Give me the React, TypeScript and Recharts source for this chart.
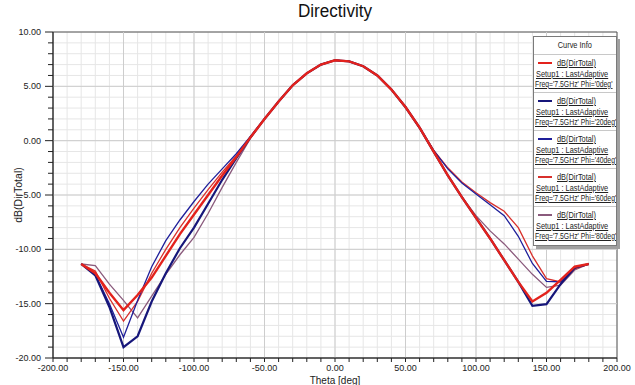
import React from 'react';
import {
  LineChart,
  Line,
  XAxis,
  YAxis,
  CartesianGrid,
  ReferenceLine,
  ReferenceArea,
  Legend,
} from 'recharts';

const theta = [
  -180, -170, -160, -150, -140, -130, -120, -110, -100, -90, -80, -70, -60, -50, -40, -30, -20, -10, 0,
  10, 20, 30, 40, 50, 60, 70, 80, 90, 100, 110, 120, 130, 140, 150, 160, 170, 180,
];

const phi0 = [
  -11.35, -12.2, -14.0, -15.6, -14.2, -12.6, -10.6, -8.6, -6.8, -5.0, -3.2, -1.5, 0.3, 2.0, 3.6, 5.1, 6.2, 7.0, 7.4,
  7.3, 6.85, 6.0, 4.7, 3.1, 1.2, -1.0, -3.2, -5.2, -7.1, -9.0, -11.0, -13.0, -14.8, -14.0, -12.8, -11.6, -11.35,
];
const phi20 = [
  -11.35, -12.4, -15.3, -19.0, -18.0, -14.8, -12.2, -9.9, -8.0, -5.8, -3.6, -1.6, 0.3, 2.0, 3.6, 5.1, 6.2, 7.0, 7.4,
  7.3, 6.85, 6.0, 4.7, 3.1, 1.2, -1.0, -3.2, -5.2, -7.1, -9.0, -11.0, -13.0, -15.2, -15.05, -13.2, -11.7, -11.35,
];
const phi40 = [
  -11.35, -12.3, -15.0, -18.1, -14.7, -11.6, -9.2, -7.3, -5.6, -4.0, -2.6, -1.2, 0.4, 2.0, 3.6, 5.1, 6.2, 7.0, 7.4,
  7.3, 6.85, 6.0, 4.7, 3.1, 1.2, -0.9, -2.6, -3.9, -4.9, -5.9, -6.9, -8.8, -11.3, -12.95, -13.0, -11.7, -11.35,
];
const phi60 = [
  -11.35, -12.0, -14.5, -16.6, -14.8, -12.2, -10.0, -8.0, -6.2, -4.5, -2.9, -1.4, 0.3, 2.0, 3.6, 5.1, 6.2, 7.0, 7.4,
  7.3, 6.85, 6.0, 4.7, 3.1, 1.2, -0.9, -2.5, -3.8, -4.8, -5.7, -6.5, -8.0, -10.6, -12.7, -13.0, -11.8, -11.35,
];
const phi80 = [
  -11.35, -11.5, -13.2, -14.7, -16.3, -14.3, -12.3, -10.5, -8.9, -6.7, -4.3, -2.0, 0.2, 2.0, 3.6, 5.1, 6.2, 7.0, 7.4,
  7.3, 6.85, 6.0, 4.7, 3.0, 1.1, -1.1, -3.2, -5.2, -6.9, -8.3, -9.5, -10.9, -12.3, -13.5, -13.3, -11.9, -11.35,
];

const xTicks = [-200, -190, -180, -170, -160, -150, -140, -130, -120, -110, -100, -90, -80, -70, -60, -50, -40, -30, -20, -10, 0,
  10, 20, 30, 40, 50, 60, 70, 80, 90, 100, 110, 120, 130, 140, 150, 160, 170, 180, 190, 200];
const yTicks = [-20, -19, -18, -17, -16, -15, -14, -13, -12, -11, -10, -9, -8, -7, -6, -5, -4, -3, -2, -1, 0,
  1, 2, 3, 4, 5, 6, 7, 8, 9, 10];
const xMajor = [-150, -100, -50, 0, 50, 100, 150];
const yMajor = [-15, -10, -5, 0, 5];

const series = [
  { key: 'phi0', phi: '0deg', color: '#e3221c', width: 2.4 },
  { key: 'phi20', phi: '20deg', color: '#16167a', width: 2.2 },
  { key: 'phi40', phi: '40deg', color: '#1f1f9a', width: 1.3 },
  { key: 'phi60', phi: '60deg', color: '#d8302c', width: 1.3 },
  { key: 'phi80', phi: '80deg', color: '#8a5a7c', width: 1.3 },
];

const data = theta.map((t, i) => ({
  theta: t,
  phi0: phi0[i],
  phi20: phi20[i],
  phi40: phi40[i],
  phi60: phi60[i],
  phi80: phi80[i],
}));

const font = "'Liberation Sans', Arial, sans-serif";

// no narrow font installed, so squeeze the text horizontally
const Narrow = ({ children, origin = 'left center', scale = 0.82 }: any) => (
  <span style={{ display: 'inline-block', transform: `scaleX(${scale})`, transformOrigin: origin }}>{children}</span>
);

const XTick = (props: any) => {
  const { x, y, payload } = props;
  const major = payload.value % 50 === 0;
  return (
    <g>
      <line x1={x} x2={x} y1={y} y2={y + 4} stroke="#222" />
      {major && (
        <text x={x} y={y + 13} textAnchor="middle" fontSize={9} fill="#222" fontFamily={font}>
          {payload.value.toFixed(2)}
        </text>
      )}
    </g>
  );
};

const YTick = (props: any) => {
  const { x, y, payload } = props;
  const major = payload.value % 5 === 0;
  return (
    <g>
      <line x1={major ? x - 8 : x - 5} x2={x} y1={y} y2={y} stroke="#222" />
      {major && (
        <text x={x - 12} y={y + 3} textAnchor="end" fontSize={9} fill="#222" fontFamily={font}>
          {payload.value.toFixed(2)}
        </text>
      )}
    </g>
  );
};

const CurveInfo = () => (
  <div
    style={{
      width: 82,
      border: '1px solid #7a7a7a',
      background: '#fff',
      boxShadow: '3px 3px 0 #a0a0a0',
      fontFamily: font,
      fontSize: 9,
      color: '#222',
      overflow: 'hidden',
    }}
  >
    <div style={{ height: 17, lineHeight: '17px', textAlign: 'center', borderBottom: '1px solid #c8c8c8' }}>
      <Narrow origin="center">Curve Info</Narrow>
    </div>
    {series.map((s, i) => (
      <div
        key={s.key}
        style={{
          height: 38,
          paddingTop: 3,
          boxSizing: 'border-box',
          borderBottom: i < series.length - 1 ? '1px solid #c8c8c8' : 'none',
          lineHeight: '10.5px',
          whiteSpace: 'nowrap',
        }}
      >
        <div style={{ display: 'flex', alignItems: 'center', paddingLeft: 4 }}>
          <span style={{ display: 'inline-block', width: 14, height: 2, background: s.color, marginRight: 5 }} />
          <Narrow>
            <span style={{ textDecoration: 'underline' }}>dB(DirTotal)</span>
          </Narrow>
        </div>
        <div style={{ paddingLeft: 2 }}>
          <Narrow>
            <span style={{ textDecoration: 'underline' }}>Setup1 : LastAdaptive</span>
          </Narrow>
        </div>
        <div style={{ paddingLeft: 1 }}>
          <Narrow scale={0.76}>
            <span style={{ textDecoration: 'underline' }}>Freq='7.5GHz' Phi='{s.phi}'</span>
          </Narrow>
        </div>
      </div>
    ))}
  </div>
);

export default function App() {
  return (
    <div style={{ position: 'absolute', left: 0, top: 0, width: 635, height: 385, background: '#fff' }}>
      <div
        style={{
          position: 'absolute',
          left: 0,
          top: 1,
          width: 670,
          textAlign: 'center',
          fontFamily: font,
          fontSize: 18,
          color: '#111',
        }}
      >
        <Narrow origin="center" scale={0.95}>Directivity</Narrow>
      </div>
      <LineChart
        width={635}
        height={385}
        data={data}
        margin={{ top: 32, right: 18, bottom: 0, left: 0 }}
        style={{ position: 'absolute', left: 0, top: 0 }}
      >
        <CartesianGrid stroke="#e6e6e6" strokeWidth={1} />
        {xMajor.map((v) => (
          <ReferenceLine key={'x' + v} x={v} stroke="#cdcdcd" />
        ))}
        {yMajor.map((v) => (
          <ReferenceLine key={'y' + v} y={v} stroke="#cdcdcd" />
        ))}
        <XAxis
          dataKey="theta"
          type="number"
          domain={[-200, 200]}
          ticks={xTicks}
          interval={0}
          height={27}
          tickSize={0}
          tickMargin={0}
          tickLine={false}
          axisLine={{ stroke: '#222' }}
          tick={<XTick />}
          label={{ value: 'Theta [deg]', position: 'insideBottom', offset: 1, fontSize: 10, fill: '#222', fontFamily: font }}
        />
        <YAxis
          type="number"
          domain={[-20, 10]}
          ticks={yTicks}
          interval={0}
          width={53}
          tickSize={0}
          tickMargin={0}
          tickLine={false}
          axisLine={{ stroke: '#222' }}
          tick={<YTick />}
          label={{ value: 'dB(DirTotal)', angle: -90, position: 'insideLeft', offset: 18, fontSize: 10.5, fill: '#222', fontFamily: font, style: { textAnchor: 'middle' } }}
        />
        <ReferenceArea x1={-200} x2={200} y1={-20} y2={10} fill="none" stroke="#555" strokeWidth={1} />
        {[...series].reverse().map((s) => (
          <Line
            key={s.key}
            dataKey={s.key}
            type="linear"
            stroke={s.color}
            strokeWidth={s.width}
            dot={false}
            isAnimationActive={false}
          />
        ))}
        <Legend
          layout="horizontal"
          verticalAlign="middle"
          align="center"
          content={<CurveInfo />}
          wrapperStyle={{ left: 533, top: 36, width: 86, height: 215 }}
        />
      </LineChart>
    </div>
  );
}
